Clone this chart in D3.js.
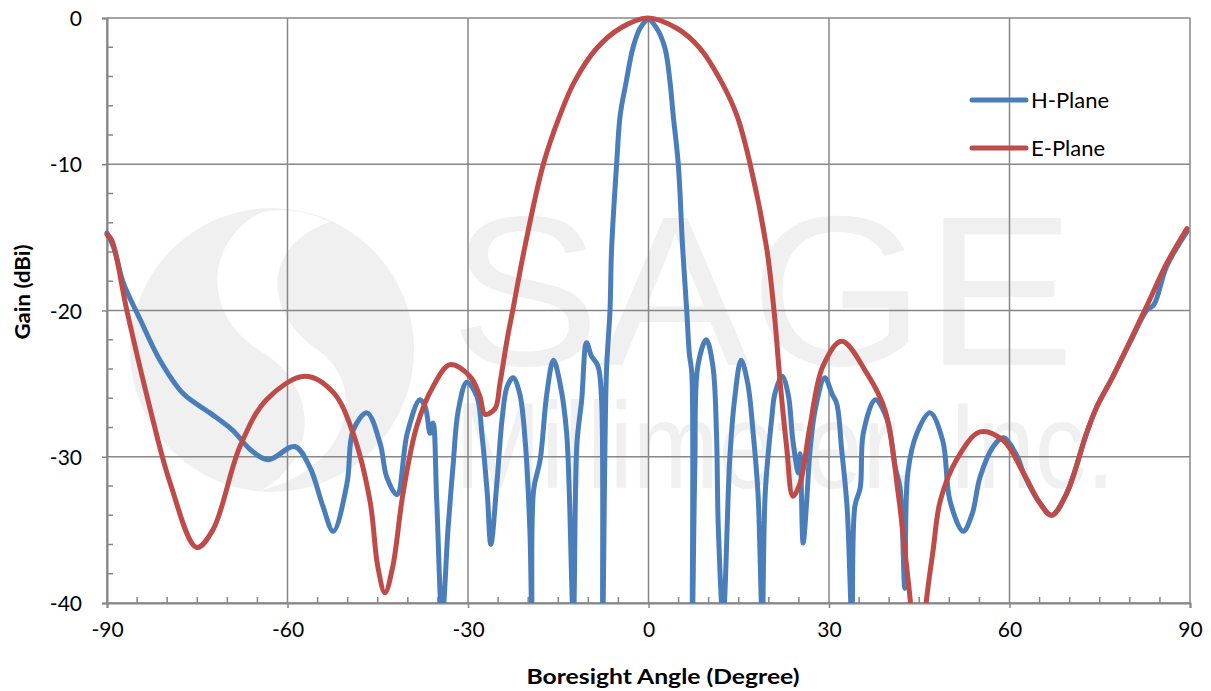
<!DOCTYPE html>
<html>
<head>
<meta charset="utf-8">
<script src="https://cdn.jsdelivr.net/npm/d3@7"></script>
<style>
	body { margin:0; background:#fff; }
	svg text { font-family: Lato, "Open Sans", sans-serif; fill:#000; }
</style>
</head>
<body>
<svg id="chart" width="1211" height="691"></svg>
<script>
// H-Plane (blue)
var hAngle = [-90,-88.8,-87.3,-84.5,-81.2,-77.3,-72.9,-69.1,-66.2,-63.2,-58.8,-56.3,-54.1,-52.4,-50.1,-49.1,-46.8,-44.6,-43.5,-41.8,
	-40.1,-38.0,-37.1,-36.3,-35.8,-35.2,-34.3,-33.3,-32.5,-31.6,-30.2,-28.5,-27.7,-26.8,-26.2,-25.2,-24.3,-23.5,-22.5,-21.4,
	-20.5,-19.7,-19.4,-19.1,-18.0,-16.9,-15.8,-14.7,-13.6,-12.5,-11.9,-11.1,-10.3,-9.5,-8.4,-7.8,-7.6,-7.0,
	-6.4,-6.13,-5.3,-4.7,-3.7,-2.6,-1.4,0,1.36,2.74,3.57,4.1,4.95,5.68,6.35,6.8,7.2,7.3,7.7,8.2,9.6,10.7,11.3,11.6,12.4,13.5,
	14.3,15.4,16.5,17.4,18.2,18.9,19.4,20.5,21.0,22.2,23.2,24.0,24.9,25.2,25.7,26.3,26.8,27.7,29.3,30.5,31.3,32.1,33.0,
	33.8,34.3,35.2,35.7,37.7,39.7,41.0,41.8,42.6,43.1,44.6,46.8,48.9,50.1,52.3,53.8,55.1,57.3,59.0,61.3,62.3,65.1,67.0,69.5,
	72.8,74.5,77.2,80.0,82.8,84.0,86.1,89.5];
var hGain = [-14.7,-15.8,-18.1,-20.6,-23.4,-25.7,-27.0,-28.2,-29.5,-30.2,-29.3,-30.7,-33.4,-35.1,-31.8,-28.2,-27.0,-29.1,-31.4,-32.6,
	-28.4,-26.1,-26.6,-28.4,-27.7,-33.0,-41,-34.8,-30.7,-26.8,-24.9,-25.9,-28.4,-32.5,-36.0,-31.8,-27.3,-25.2,-24.6,-25.7,
	-28.9,-35.2,-41,-32.3,-30.2,-25.7,-23.4,-25.0,-28.4,-41,-29.1,-26.1,-22.2,-23.1,-23.8,-26.1,-41,-24.3,
	-20.0,-15.75,-10.0,-6.63,-4.35,-2.07,-0.7,-0.1,-0.7,-2.07,-4.35,-6.63,-10.0,-15.75,-20.0,-23.0,-24.3,-41,-30.7,-23.8,-22.0,-23.8,-28.4,-34.8,-41,-30.2,
	-26.1,-23.4,-25.0,-28.4,-32.5,-41,-32.5,-27.3,-25.7,-24.5,-25.7,-28.9,-31.1,-29.8,-35.9,-33.0,-29.8,-26.8,-24.6,-25.7,-26.4,-29.5,-33.4,
	-41,-33.4,-32.1,-28.4,-26.1,-27.5,-30.7,-32.1,-39.0,-31.1,-28.4,-27.0,-28.9,-33.0,-35.1,-33.9,-31.4,-29.3,-28.7,-30.0,-31.1,-33.2,-34.0,-32.5,
	-28.4,-26.6,-24.5,-22.2,-20.0,-19.6,-17.0,-14.6];

// E-Plane (red)
var eAngle = [-90,-89.2,-86.7,-82.9,-79.5,-75.1,-72.4,-67.9,-63.5,-57.1,-52.4,-49.1,-46.3,-45.0,-43.8,-42.5,-40.8,-38.5,-35.8,-33.0,
	-29.7,-28.0,-27.2,-25.5,-24.7,-23.5,-22.57,-20.6,-17.48,-14.7,-12.3,-8.6,-4.7,-0.2,4.7,8.56,12.1,14.66,16.9,19.64,20.86,21.9,23.0,24.0,25.2,26.8,
	29.0,32.1,36.3,39.3,41.5,42.9,43.5,44.2,45.6,46.2,47.3,48.5,51.2,55.1,59.0,62.3,65.1,67.0,69.5,72.8,74.5,77.2,82.8,86.1,89.5];
var eGain = [-14.8,-15.2,-20.0,-26.6,-31.8,-36.2,-35.0,-29.3,-26.1,-24.5,-25.6,-28.4,-33.0,-37.5,-39.3,-37.5,-32.5,-27.9,-25.2,-23.7,
	-24.5,-25.9,-27.1,-26.7,-25.0,-22.0,-20.0,-15.75,-10.0,-6.63,-4.35,-2.07,-0.7,0,-0.7,-2.07,-4.35,-6.63,-10.0,-15.75,-20.0,-25.0,-29.5,-32.7,-31.8,-28.0,
	-23.8,-22.1,-24.3,-26.8,-32.5,-37.5,-39.8,-43,-43,-39.8,-36.4,-33.0,-30.2,-28.3,-28.9,-31.1,-33.2,-34.0,-32.5,-28.4,-26.6,-24.5,-19.7,-16.8,-14.4];

var xTicks = [-90,-60,-30,0,30,60,90];
var yTicks = [0,-10,-20,-30,-40];
var seriesNames = ["H-Plane","E-Plane"];
var seriesColors = ["#4a7ebb","#be4b48"];

var plotLeft = 107, plotRight = 1190, plotTop = 18, plotBottom = 603;
var svg = d3.select("#chart");

var x = d3.scaleLinear().domain([-90,90]).range([plotLeft,plotRight]);
var y = d3.scaleLinear().domain([-40,0]).range([plotBottom,plotTop]);

// watermark (SAGE Millimeter logo, very faint)
var wm = svg.append("g").attr("class","watermark");
wm.append("circle").attr("cx",272).attr("cy",350).attr("r",142).attr("fill","#f0f0f0");
wm.append("path")
	.attr("d","M262,212 C205,240 200,315 262,352 C320,388 318,458 262,490 C345,470 372,390 318,350 C262,312 262,245 330,222 C305,210 285,208 262,212 Z")
	.attr("fill","#fff");
wm.append("text")
	.attr("x",450).attr("y",365)
	.attr("textLength",625).attr("lengthAdjust","spacingAndGlyphs")
	.style("font-family","'Liberation Sans', Arial, sans-serif")
	.style("font-size","214px")
	.style("fill","#f0f0f0")
	.text("SAGE");
wm.append("text")
	.attr("x",455).attr("y",488)
	.attr("textLength",660).attr("lengthAdjust","spacingAndGlyphs")
	.style("font-family","'Liberation Sans', Arial, sans-serif")
	.style("font-size","122px")
	.style("fill","#f0f0f0")
	.text("Millimeter, Inc.");

// grid
var grid = svg.append("g").attr("class","grid");
grid.selectAll(".vgrid").data(xTicks).enter().append("line")
	.attr("x1",function(d){ return x(d); }).attr("x2",function(d){ return x(d); })
	.attr("y1",plotTop).attr("y2",plotBottom)
	.attr("stroke","#878787").attr("stroke-width",1.5);
grid.selectAll(".hgrid").data(yTicks).enter().append("line")
	.attr("x1",plotLeft).attr("x2",plotRight)
	.attr("y1",function(d){ return y(d); }).attr("y2",function(d){ return y(d); })
	.attr("stroke","#878787").attr("stroke-width",1.5);

// axes
var fmt = function(d){ return String(d); };
var xAxis = d3.axisBottom(x).tickValues(xTicks).tickFormat(fmt).tickSize(5).tickPadding(14);
var gx = svg.append("g").attr("transform","translate(0,"+plotBottom+")").call(xAxis);
var yAxis = d3.axisLeft(y).tickValues(yTicks).tickFormat(fmt).tickSize(5).tickPadding(20);
var gy = svg.append("g").attr("transform","translate("+plotLeft+",0)").call(yAxis);

[gx,gy].forEach(function(g){
	g.select(".domain").attr("stroke","#878787").attr("stroke-width",2);
	g.selectAll(".tick line").attr("stroke","#878787").attr("stroke-width",1.5);
	g.selectAll(".tick text").style("font-size","21px").style("fill","#000");
});
gy.selectAll(".tick text").attr("dy","0.36em");

// minor ticks, inside the plot
var minorX = d3.range(-85,90,5).filter(function(d){ return d % 30 != 0; });
var minorY = d3.range(-38,0,2).filter(function(d){ return d % 10 != 0; });
svg.append("g").selectAll("line").data(minorX).enter().append("line")
	.attr("x1",function(d){ return x(d); }).attr("x2",function(d){ return x(d); })
	.attr("y1",plotBottom).attr("y2",plotBottom-6)
	.attr("stroke","#878787").attr("stroke-width",1.5);
svg.append("g").selectAll("line").data(minorY).enter().append("line")
	.attr("x1",plotLeft).attr("x2",plotLeft+6)
	.attr("y1",function(d){ return y(d); }).attr("y2",function(d){ return y(d); })
	.attr("stroke","#878787").attr("stroke-width",1.5);

// clip lines at the -40 floor
svg.append("clipPath").attr("id","plotClip")
	.append("rect").attr("x",plotLeft-5).attr("y",0).attr("width",plotRight-plotLeft+10).attr("height",plotBottom);

var line = d3.line()
	.x(function(d){ return x(d[0]); })
	.y(function(d){ return y(d[1]); })
	.curve(d3.curveCatmullRom.alpha(0.5));

var series = [d3.zip(hAngle,hGain), d3.zip(eAngle,eGain)];

svg.append("g").attr("clip-path","url(#plotClip)")
	.selectAll("path").data(series).enter().append("path")
	.attr("d",line)
	.attr("fill","none")
	.attr("stroke",function(d,i){ return seriesColors[i]; })
	.attr("stroke-width",5)
	.attr("stroke-linejoin","round")
	.attr("stroke-linecap","round");

// legend
var legend = svg.append("g").selectAll("g").data(seriesNames).enter().append("g")
	.attr("transform",function(d,i){ return "translate(972,"+(100+i*48)+")"; });
legend.append("line")
	.attr("x1",0).attr("x2",54).attr("y1",0).attr("y2",0)
	.attr("stroke",function(d,i){ return seriesColors[i]; })
	.attr("stroke-width",5).attr("stroke-linecap","round");
legend.append("text")
	.attr("x",59).attr("y",0).attr("dy","0.35em")
	.style("font-size","22px")
	.text(function(d){ return d; });

// axis titles
svg.append("text")
	.attr("x",663).attr("y",684)
	.attr("text-anchor","middle")
	.attr("textLength",273).attr("lengthAdjust","spacingAndGlyphs")
	.style("font-size","21px").style("font-weight","bold")
	.text("Boresight Angle (Degree)");
svg.append("text")
	.attr("transform","translate(30,292) rotate(-90)")
	.attr("text-anchor","middle")
	.attr("textLength",95).attr("lengthAdjust","spacingAndGlyphs")
	.style("font-size","21px").style("font-weight","bold")
	.text("Gain (dBi)");
</script>
</body>
</html>
